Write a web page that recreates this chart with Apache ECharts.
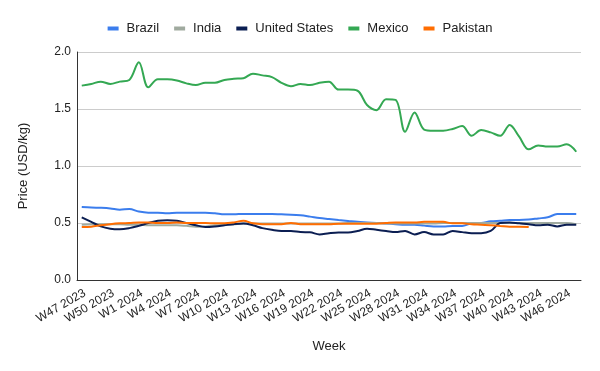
<!DOCTYPE html>
<html>
<head>
<meta charset="utf-8">
<script src="https://cdn.jsdelivr.net/npm/echarts@6/dist/echarts.min.js"></script>
<style>html,body{margin:0;padding:0;background:#fff}#chart{width:600px;height:371px}</style>
</head>
<body>
<div id="chart"></div>
<script>
const weeks = ["W47 2023","W48 2023","W49 2023","W50 2023","W51 2023","W52 2023",
"W1 2024","W2 2024","W3 2024","W4 2024","W5 2024","W6 2024","W7 2024","W8 2024","W9 2024","W10 2024",
"W11 2024","W12 2024","W13 2024","W14 2024","W15 2024","W16 2024","W17 2024","W18 2024","W19 2024","W20 2024",
"W21 2024","W22 2024","W23 2024","W24 2024","W25 2024","W26 2024","W27 2024","W28 2024","W29 2024","W30 2024",
"W31 2024","W32 2024","W33 2024","W34 2024","W35 2024","W36 2024","W37 2024","W38 2024","W39 2024","W40 2024",
"W41 2024","W42 2024","W43 2024","W44 2024","W45 2024","W46 2024","W47 2024"];

const brazil = [0.64,0.635,0.633,0.628,0.617,0.623,0.60,0.59,0.59,0.585,0.59,0.59,0.59,
0.59,0.585,0.576,0.576,0.58,0.58,0.58,0.58,0.576,0.573,0.567,0.556,0.544,0.535,
0.526,0.518,0.51,0.505,0.50,0.495,0.49,0.485,0.485,0.477,0.47,0.47,0.474,
0.474,0.497,0.50,0.515,0.52,0.526,0.526,0.53,0.54,0.55,0.578,0.58,0.58];

const india = [0.485,0.49,0.49,0.49,0.49,0.485,0.485,0.48,0.48,0.48,0.48,0.475,0.468,
0.47,0.48,0.485,0.49,0.495,0.495,0.495,0.495,0.495,0.495,0.495,0.495,0.495,0.495,
0.495,0.5,0.5,0.5,0.5,0.495,0.495,0.495,0.495,0.495,0.495,0.5,0.5,
0.5,0.5,0.5,0.5,0.5,0.5,0.5,0.5,0.5,0.5,0.5,0.5,0.49];

const unitedStates = [0.55,0.51,0.47,0.45,0.445,0.455,0.475,0.50,0.52,0.525,0.52,0.50,0.48,
0.465,0.47,0.48,0.49,0.495,0.48,0.455,0.44,0.43,0.43,0.42,0.418,0.40,0.41,
0.416,0.416,0.43,0.45,0.44,0.43,0.42,0.43,0.40,0.42,0.40,0.40,0.43,
0.42,0.41,0.41,0.43,0.50,0.505,0.497,0.49,0.48,0.485,0.47,0.485,0.485];

const mexico = [1.705,1.72,1.74,1.72,1.74,1.755,1.91,1.69,1.76,1.76,1.75,1.725,1.71,
1.73,1.73,1.755,1.765,1.77,1.81,1.795,1.78,1.73,1.70,1.72,1.71,1.73,1.74,
1.67,1.67,1.66,1.535,1.49,1.585,1.58,1.30,1.47,1.32,1.31,1.31,1.325,
1.35,1.265,1.315,1.295,1.265,1.36,1.257,1.146,1.18,1.17,1.17,1.19,1.125];

const pakistan = [0.465,0.468,0.48,0.49,0.497,0.50,0.505,0.505,0.50,0.50,0.505,0.50,0.50,
0.50,0.497,0.497,0.505,0.52,0.497,0.49,0.49,0.49,0.50,0.49,0.49,0.49,0.49,
0.494,0.494,0.494,0.494,0.494,0.50,0.505,0.505,0.505,0.51,0.51,0.51,0.497,
0.497,0.488,0.485,0.48,0.474,0.468,0.468,0.465,null,null,null,null,null];

const yTicks = [0, 0.5, 1.0, 1.5, 2.0];

const seriesDefs = [
  {name:'Brazil', data:brazil, color:'#3b7ded'},
  {name:'India', data:india, color:'#a0aa9f'},
  {name:'United States', data:unitedStates, color:'#0b1e52'},
  {name:'Mexico', data:mexico, color:'#34a853'},
  {name:'Pakistan', data:pakistan, color:'#ff6d01'}
];

const font = 'Liberation Sans, Arial, sans-serif';
const chart = echarts.init(document.getElementById('chart'), null, {renderer:'canvas'});
chart.setOption({
  animation:false,
  textStyle:{fontFamily:font},
  legend:{
    top:17, left:'center',
    icon:'rect', itemWidth:11, itemHeight:4, itemGap:15,
    textStyle:{fontSize:13, color:'#222', fontFamily:font, padding:[0,0,0,3]},
    data: seriesDefs.map(s=>s.name)
  },
  grid:{left:77, right:19, top:52, bottom:91, containLabel:false},
  xAxis:{
    type:'category', data:weeks, boundaryGap:true,
    name:'Week', nameLocation:'middle', nameGap:60,
    nameTextStyle:{fontSize:13, color:'#222', fontFamily:font},
    axisLine:{lineStyle:{color:'#333', width:1}},
    axisTick:{show:false},
    axisLabel:{interval:2, rotate:30, fontSize:12, color:'#222', fontFamily:font, margin:7,
      align:'right', verticalAlign:'top'}
  },
  yAxis:{
    type:'value', min:yTicks[0], max:yTicks[yTicks.length-1], interval:0.5,
    name:'Price (USD/kg)', nameLocation:'middle', nameGap:47,
    nameTextStyle:{fontSize:13, color:'#222', fontFamily:font},
    axisLine:{show:true, lineStyle:{color:'#333', width:1}},
    axisTick:{show:false},
    splitLine:{lineStyle:{color:'#cccccc'}},
    axisLabel:{fontSize:12, color:'#222', fontFamily:font, formatter:v=>v.toFixed(1), margin:6}
  },
  series: seriesDefs.map(s=>({
    name:s.name, type:'line', data:s.data, smooth:0.35, showSymbol:false,
    connectNulls:false,
    lineStyle:{width:2, color:s.color}, itemStyle:{color:s.color}
  }))
});
</script>
</body>
</html>
